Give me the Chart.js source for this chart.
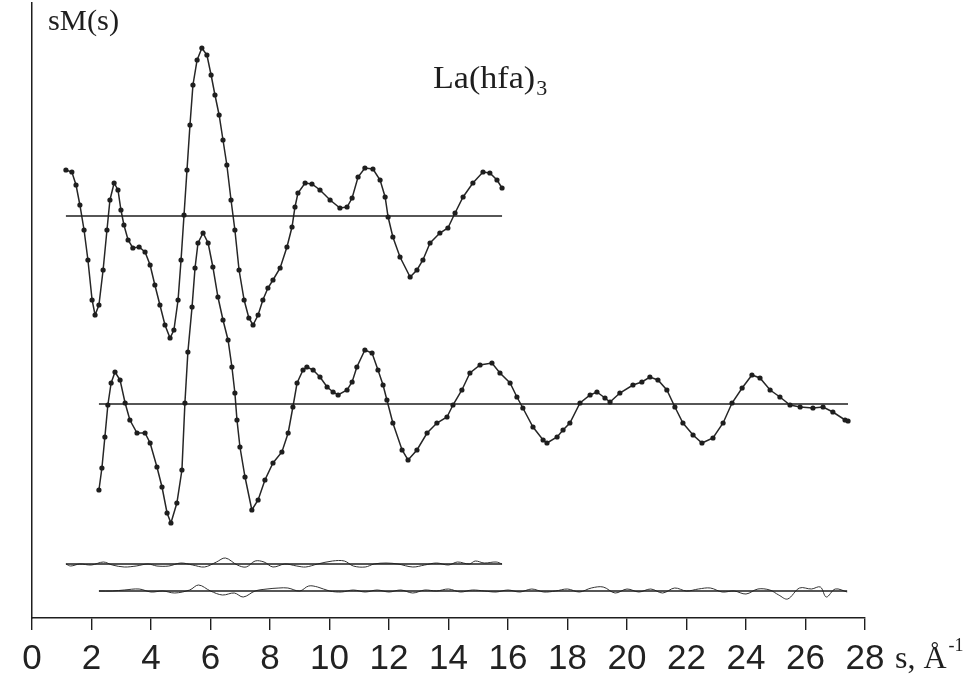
<!DOCTYPE html>
<html>
<head>
<meta charset="utf-8">
<script src="https://cdn.jsdelivr.net/npm/chart.js@4/dist/chart.umd.min.js"></script>
<style>
  html, body { margin: 0; padding: 0; background: #fff; }
  #wrap { position: relative; width: 969px; height: 675px; }
</style>
</head>
<body>
<div id="wrap"><canvas id="c"></canvas></div>
<script>
// ---- x tick labels ----
const xTicks = [0, 2, 4, 6, 8, 10, 12, 14, 16, 18, 20, 22, 24, 26, 28];

// ---- upper sM(s) curve (short s range) ----
const sUpper = [1.14,1.34,1.48,1.61,1.75,1.88,2.02,2.12,2.25,2.39,2.52,2.62,2.76,2.89,2.99,3.09,3.23,3.39,3.60,3.80,3.97,4.13,4.30,4.47,4.64,4.77,4.91,5.01,5.11,5.21,5.31,5.41,5.55,5.71,5.88,6.02,6.15,6.29,6.42,6.55,6.69,6.82,6.96,7.13,7.29,7.43,7.60,7.76,7.93,8.10,8.34,8.57,8.74,8.84,8.94,9.18,9.41,9.68,10.02,10.35,10.59,10.76,10.96,11.19,11.46,11.70,11.87,11.97,12.13,12.37,12.71,12.94,13.14,13.38,13.71,13.98,14.22,14.49,14.82,15.16,15.39,15.63,15.80];
const smUpper = [4.6,4.4,3.1,1.1,-1.4,-4.4,-8.4,-9.9,-8.9,-5.4,-1.4,1.6,3.3,2.6,0.6,-0.9,-2.4,-3.2,-3.1,-3.6,-4.9,-6.9,-8.9,-10.9,-12.2,-11.4,-8.4,-4.4,0.1,4.6,9.1,13.1,15.6,16.8,16.1,14.1,12.1,10.1,7.6,5.1,1.6,-1.4,-5.4,-8.4,-10.2,-10.9,-9.9,-8.4,-7.2,-6.4,-5.2,-3.1,-1.1,0.9,2.3,3.3,3.2,2.6,1.6,0.8,0.9,1.8,3.9,4.8,4.7,3.6,1.9,-0.1,-2.1,-4.1,-6.1,-5.4,-4.4,-2.7,-1.7,-1.2,0.3,1.9,3.3,4.4,4.3,3.6,2.8];

// ---- lower sM(s) curve (long s range) ----
const sLower = [2.25,2.35,2.45,2.55,2.66,2.79,2.96,3.13,3.29,3.53,3.80,3.97,4.20,4.37,4.54,4.67,4.87,5.04,5.14,5.24,5.38,5.48,5.58,5.75,5.92,6.08,6.25,6.42,6.59,6.72,6.82,6.89,6.99,7.16,7.39,7.60,7.83,8.10,8.40,8.61,8.77,8.91,9.11,9.24,9.45,9.68,9.92,10.12,10.29,10.59,10.76,10.92,11.19,11.43,11.63,11.80,11.93,12.13,12.44,12.64,12.94,13.28,13.61,13.95,14.15,14.45,14.72,15.06,15.46,15.73,16.07,16.30,16.50,16.84,17.18,17.31,17.65,17.85,18.08,18.42,18.76,18.99,19.26,19.43,19.76,20.20,20.50,20.77,21.04,21.34,21.61,21.88,22.22,22.52,22.89,23.23,23.53,23.87,24.20,24.47,24.81,25.14,25.48,25.82,26.25,26.59,26.92,27.33,27.43];
const smLower = [-8.6,-6.4,-3.3,-0.1,2.1,3.2,2.4,0.1,-1.6,-2.9,-2.9,-3.9,-6.3,-8.3,-10.9,-11.9,-9.9,-6.6,0.1,5.2,9.7,13.6,16.1,17.1,16.1,13.7,10.7,8.4,6.4,3.7,1.1,-1.6,-4.3,-7.3,-10.6,-9.6,-7.6,-5.9,-4.8,-2.9,-0.3,2.1,3.4,3.7,3.4,2.7,1.7,1.2,0.9,1.4,2.2,3.7,5.4,5.1,3.4,1.9,0.4,-1.9,-4.6,-5.6,-4.6,-2.9,-1.9,-1.3,-0.1,1.4,3.1,3.9,4.1,3.1,2.1,0.7,-0.4,-2.3,-3.6,-3.9,-3.3,-2.6,-1.9,0.1,0.9,1.2,0.6,0.2,1.1,1.9,2.2,2.7,2.4,1.4,-0.3,-1.9,-3.1,-3.9,-3.4,-1.9,0.1,1.6,2.9,2.6,1.4,0.7,-0.1,-0.3,-0.4,-0.3,-0.8,-1.6,-1.7];

// ---- difference curves ----
const sDiff1 = [1.14,1.3,1.6,2.0,2.4,2.7,3.1,3.5,3.9,4.2,4.6,5.0,5.4,5.8,6.2,6.5,6.9,7.2,7.5,7.8,8.1,8.5,8.9,9.2,9.6,10.1,10.5,10.8,11.2,11.5,11.9,12.3,12.8,13.2,13.6,14.0,14.3,14.7,14.9,15.2,15.6,15.8];
const dDiff1 = [0,-0.2,0.0,-0.1,0.2,-0.1,-0.3,-0.2,0.0,-0.2,-0.2,0.1,-0.1,-0.3,0.2,0.6,-0.1,-0.3,0.3,0.2,-0.3,0.0,-0.2,-0.3,0.0,0.3,0.3,-0.2,-0.3,0.0,0.1,0.0,-0.3,-0.1,0.1,-0.1,0.2,0.0,0.3,0.1,0.2,0.0];
const sDiff2 = [2.25,2.7,3.1,3.6,4.0,4.4,4.8,5.3,5.6,6.0,6.4,6.8,7.1,7.5,7.9,8.3,8.6,9.0,9.3,9.6,10.0,10.4,10.8,11.2,11.6,12.0,12.4,12.8,13.2,13.6,14.0,14.4,14.8,15.2,15.6,16.0,16.4,16.8,17.2,17.6,18.0,18.4,18.8,19.2,19.6,20.0,20.4,20.8,21.2,21.6,22.0,22.4,22.8,23.2,23.6,24.0,24.4,24.8,25.1,25.4,25.8,26.2,26.5,26.7,27.0,27.4];
const dDiff2 = [0,0.0,0.1,0.2,-0.1,0.0,-0.2,0.1,0.6,0.0,-0.4,-0.2,-0.6,0.0,0.2,0.3,0.3,0.0,0.5,0.4,0.0,-0.1,0.1,-0.1,0.1,-0.1,0.1,-0.2,0.1,0.0,0.2,-0.1,0.1,0.0,-0.1,0.1,-0.1,0.2,-0.1,0.0,0.2,-0.1,0.3,0.4,-0.2,0.2,-0.1,0.2,-0.2,0.3,0.0,0.2,0.3,-0.1,0.0,-0.3,0.2,0.1,-0.4,-0.8,0.3,0.2,0.4,-0.6,0.2,-0.1];

// vertical shifts of each curve (stacked display)
const shiftUpper = 40.2, shiftLower = 21.4, shiftDiff1 = 5.4, shiftDiff2 = 2.7;

function pts(xs, ys, shift) { return xs.map((x, i) => ({ x: x, y: ys[i] + shift })); }
function base(xs, shift) { return [{ x: xs[0], y: shift }, { x: xs[xs.length - 1], y: shift }]; }

const INK = '#1e1e1e';
const curve = (data) => ({ data, borderColor: '#262626', borderWidth: 1.5, pointRadius: 2.6, pointBackgroundColor: INK, pointBorderWidth: 0, pointHoverRadius: 0, tension: 0 });
const flat = (data) => ({ data, borderColor: INK, borderWidth: 1.5, pointRadius: 0, tension: 0 });
const diff = (data) => ({ data, borderColor: '#333', borderWidth: 1, pointRadius: 0, tension: 0.35 });

function stretchedText(ctx, txt, x, y, sx) {
  ctx.save();
  ctx.translate(x, y);
  ctx.scale(sx, 1);
  ctx.fillText(txt, 0, 0);
  const w = ctx.measureText(txt).width * sx;
  ctx.restore();
  return w;
}

const textPlugin = {
  id: 'texts',
  afterDraw(chart) {
    const ctx = chart.ctx;
    ctx.save();
    ctx.fillStyle = INK;
    ctx.textBaseline = 'alphabetic';
    ctx.font = '29px "Liberation Serif", "Times New Roman", serif';
    stretchedText(ctx, 'sM(s)', 48, 30, 1.05);
    ctx.font = '31px "Liberation Serif", "Times New Roman", serif';
    const w = stretchedText(ctx, 'La(hfa)', 433, 88, 1.1);
    ctx.font = '21px "Liberation Serif", "Times New Roman", serif';
    stretchedText(ctx, '3', 433 + w + 1, 95, 1.05);
    ctx.font = '32px "Liberation Serif", "Times New Roman", serif';
    ctx.fillText('s, Å', 895, 668);
    const w2 = ctx.measureText('s, Å').width;
    ctx.font = '18px "Liberation Serif", "Times New Roman", serif';
    ctx.fillText('-1', 895 + w2 + 2, 651);
    ctx.restore();
  }
};

new Chart(document.getElementById('c'), {
  type: 'line',
  data: {
    datasets: [
      flat(base(sUpper, shiftUpper)),
      curve(pts(sUpper, smUpper, shiftUpper)),
      flat(base(sLower, shiftLower)),
      curve(pts(sLower, smLower, shiftLower)),
      flat(base(sDiff1, shiftDiff1)),
      diff(pts(sDiff1, dDiff1, shiftDiff1)),
      flat(base(sDiff2, shiftDiff2)),
      diff(pts(sDiff2, dDiff2, shiftDiff2))
    ]
  },
  options: {
    responsive: true,
    maintainAspectRatio: false,
    animation: false,
    layout: { padding: { left: 32, right: 104, top: 3, bottom: 0 } },
    plugins: { legend: { display: false }, tooltip: { enabled: false }, title: { display: false } },
    scales: {
      x: {
        type: 'linear', min: 0, max: 28,
        afterBuildTicks: (axis) => { axis.ticks = xTicks.map(v => ({ value: v })); },
        afterFit: (axis) => { axis.height = 57; },
        grid: { drawOnChartArea: false, drawTicks: true, tickLength: 12, color: INK, lineWidth: 1.4 },
        border: { display: true, color: INK, width: 1.5 },
        ticks: { color: '#222', padding: 8, maxRotation: 0, autoSkip: false,
                 font: { family: '"Liberation Sans Narrow", "Arial Narrow", "Liberation Sans", Arial, sans-serif', size: 35 } }
      },
      y: {
        type: 'linear', min: 0, max: 61.5,
        grid: { display: false, drawTicks: false },
        border: { display: true, color: INK, width: 1.5 },
        ticks: { display: false }
      }
    }
  },
  plugins: [textPlugin]
});
</script>
</body>
</html>
